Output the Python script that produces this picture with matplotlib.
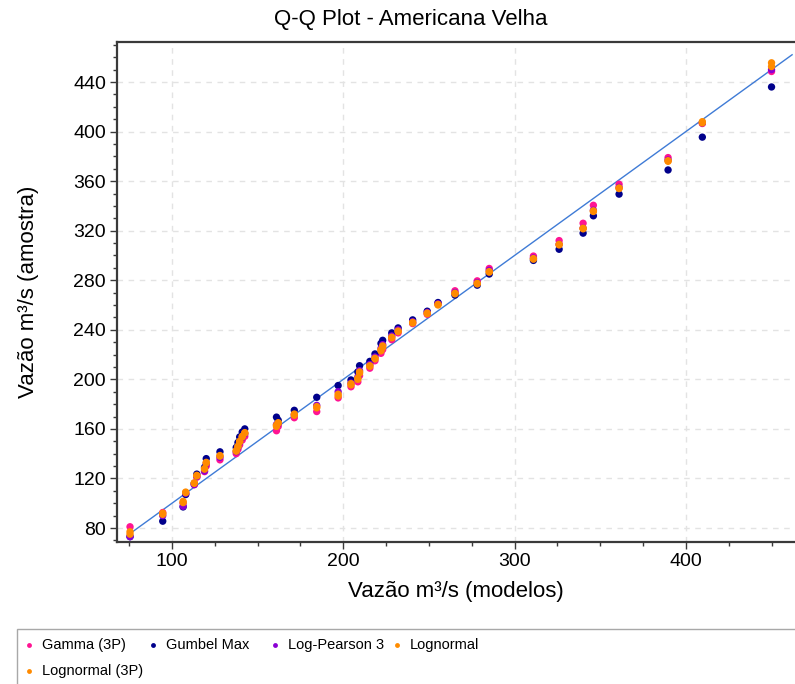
import numpy as np
import matplotlib.pyplot as plt
from matplotlib.patches import Rectangle
from matplotlib.lines import Line2D
from matplotlib.ticker import MultipleLocator

plt.rcParams['font.family'] = ['Liberation Sans', 'DejaVu Sans']

# Quantis (eixo x) compartilhados por todas as distribuicoes
x_q = [75.5, 94.6, 106.5, 108, 113, 114.5, 119, 120, 128, 137.5,
       138.5, 139.5, 141, 142.5, 161, 162, 171.4, 184.5, 197, 204.5,
       208.5, 209.5, 215.5, 218.5, 222, 223, 228.3, 232, 240.5, 249,
       255.3, 265.2, 278.2, 285.2, 311, 326, 340, 346, 361, 389.6,
       409.6, 450]

gamma = [81, 92.5, 100, 107.5, 115, 121, 125.5, 130, 135, 140,
         143.5, 147, 151, 154, 158.5, 162, 169, 174, 185, 194,
         198, 203, 209, 215, 221, 224, 232, 237.5, 245, 252.5,
         261.5, 271.5, 279.5, 289.5, 299.5, 312, 326, 340.5, 357.5, 379,
         406.5, 448.5]

gumbel = [73, 85.5, 97, 107, 116, 123.5, 129, 136, 141.5, 145,
          149, 153.5, 157.5, 160, 169.5, 167, 175, 185.5, 195, 199.5,
          206, 211, 214.5, 220.5, 229, 231.5, 237.5, 241.5, 248, 255,
          262, 268, 276, 285, 296, 305, 318, 332, 349.5, 369,
          395.5, 436]

log_pearson = [73, 90, 97.5, 108, 115, 121.5, 126, 132, 137, 141.5,
               145, 149, 153, 156, 163.5, 164, 171.5, 179, 190, 197,
               202, 207, 212, 218, 225, 228, 235, 240, 246.5, 254,
               261, 270, 278, 288, 298, 309, 322, 336.5, 355, 377,
               407, 450]

lognormal = [77, 92, 101.5, 109, 116.5, 122.5, 128, 133, 138.5, 142.5,
             146, 150, 154, 157, 163, 165, 172, 178, 188, 196.5,
             201, 206, 211, 217, 224, 227, 234, 239, 246, 253.5,
             260.5, 269.5, 277.5, 287, 297.5, 309, 322, 336, 354.5, 376.5,
             408, 452.5]

lognormal_3p = [75, 91, 100.5, 108.5, 116, 122, 127.5, 132.5, 138, 142,
                145.5, 149.5, 153.5, 156.5, 162, 164.5, 171, 177, 186.5, 195.5,
                200, 205, 210.5, 216.5, 223, 226, 233.5, 238.5, 245.5, 253,
                260, 269, 277, 286.5, 297, 308.5, 321.5, 335.5, 354, 376,
                407, 455.5]

nomes = ['Gamma (3P)', 'Gumbel Max', 'Log-Pearson 3', 'Lognormal', 'Lognormal (3P)']
cores = ['#ff1493', '#00008b', '#8a00d4', '#ff8c00', '#ff8a00']
series = [gamma, gumbel, log_pearson, lognormal, lognormal_3p]

# linha de referencia y = x
linha = [76.5, 462]

W, H = 795, 684
fig = plt.figure(figsize=(W / 100, H / 100), dpi=100)
ax = fig.add_axes([117 / W, 1 - 542 / H, (W - 117) / W, 500 / H])

ax.plot(linha, linha, color='#3f7bd6', lw=1, zorder=2)
for ys, c in zip(series, cores):
    ax.scatter(x_q, ys, s=28, color=c, edgecolors='none', zorder=3)

ax.set_xlim(67.9, 463.7)
ax.set_ylim(68.7, 472.3)
ax.xaxis.set_major_locator(MultipleLocator(100))
ax.xaxis.set_minor_locator(MultipleLocator(25))
ax.yaxis.set_major_locator(MultipleLocator(40))
ax.yaxis.set_minor_locator(MultipleLocator(10))
ax.grid(True, which='major', color='#e3e3e3', ls=(0, (4, 4)), lw=1)
ax.set_axisbelow(True)

for lado in ['left', 'bottom', 'top']:
    ax.spines[lado].set_color('#3a3a3a')
    ax.spines[lado].set_linewidth(1.6)
ax.spines['right'].set_visible(False)
ax.tick_params(which='major', length=5, width=1, color='#3a3a3a', labelsize=14, pad=3)
ax.tick_params(which='minor', length=3, width=1, color='#3a3a3a')

ax.set_xlabel('Vazão m³/s (modelos)', fontsize=16)
ax.xaxis.set_label_coords(0.5, -0.078)
ax.set_ylabel('Vazão m³/s (amostra)', fontsize=16)
ax.yaxis.set_label_coords(-0.115, 0.5)
fig.text(411 / W, 1 - 20 / H, 'Q-Q Plot - Americana Velha', ha='center', va='center', fontsize=16)

# legenda desenhada em grade fixa como no original
fig.patches.append(Rectangle((17 / W, -0.01), 1.0, 0.01 + 55 / H, transform=fig.transFigure,
                             facecolor='white', edgecolor='#a8a8a8', lw=1))
pos_marker = [(29, 645), (152.5, 645), (275, 645), (397, 645), (29, 671)]
for (mx, my), nome, c in zip(pos_marker, nomes, cores):
    fig.lines.append(Line2D([mx / W], [1 - my / H], transform=fig.transFigure, marker='o',
                            ms=3.5, color=c, mec='none', ls='none'))
    fig.text((mx + 13) / W, 1 - my / H, nome, ha='left', va='center', fontsize=10.5)

fig.savefig('out.png', dpi=100)
